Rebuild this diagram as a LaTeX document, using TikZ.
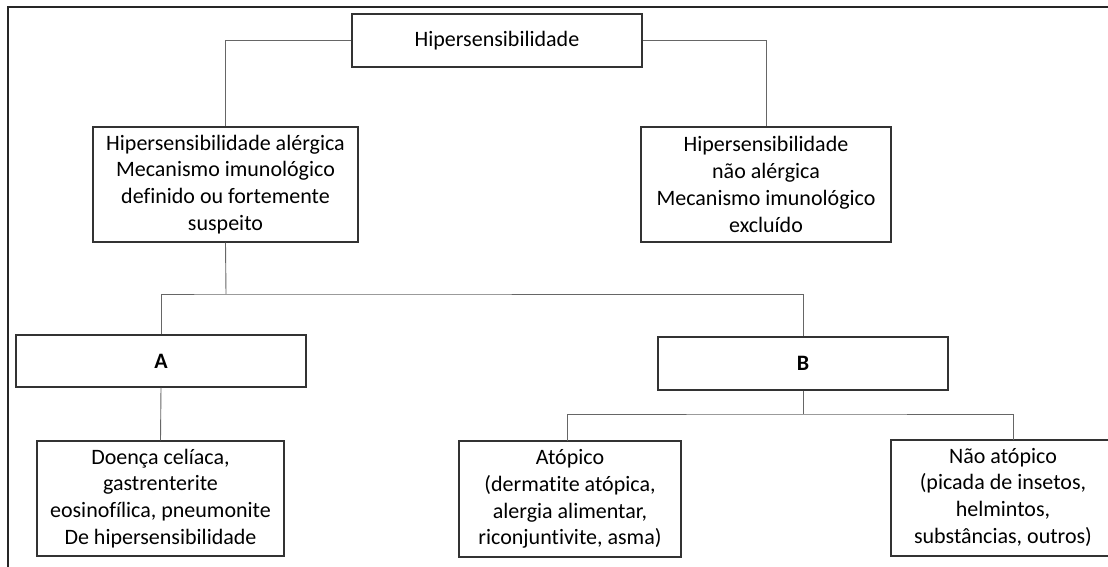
\documentclass[tikz,border=0pt]{standalone}
\usepackage{fontspec}
\setmainfont{Carlito}[Ligatures={NoCommon}]
\begin{document}
\begin{tikzpicture}[x=1pt,y=-1pt,
  box/.style={draw=black!80, line width=1.1pt, fill=white, inner sep=0pt, align=center,
    font=\fontsize{22}{26.8}\selectfont},
  conn/.style={draw=black!60, line width=0.9pt},
  frame/.style={draw=black!85, line width=1.1pt}]
\clip (0,0) rectangle (1108,567);
\fill[white] (0,0) rectangle (1108,567);
% partial frame
\coordinate (f0) at (8,567);
\coordinate (f1) at (8,7);
\coordinate (f2) at (1110,7);
\draw[frame] (f0) -- (f1) -- (f2);
% nodes
\node[box, minimum width=290pt, minimum height=53pt] (top) at (497,40.5) {Hipersensibilidade};
\node[box, minimum width=265pt, minimum height=115pt] (L) at (225.5,184.5)
  {Hipersensibilidade alérgica\\Mecanismo imunológico\\definido ou fortemente\\suspeito};
\node[box, minimum width=250pt, minimum height=115pt] (R) at (766,184.5)
  {Hipersensibilidade\\não alérgica\\Mecanismo imunológico\\excluído};
\node[box, minimum width=290pt, minimum height=52pt, font=\fontsize{22}{26.8}\selectfont\bfseries] (A) at (161,361) {A};
\node[box, minimum width=290pt, minimum height=53pt, font=\fontsize{22}{26.8}\selectfont\bfseries] (B) at (803,363.5) {B};
\node[box, minimum width=247pt, minimum height=115pt] (D) at (160.5,498.5)
  {Doença celíaca,\\gastrenterite\\eosinofílica, pneumonite\\De hipersensibilidade};
\node[box, minimum width=222pt, minimum height=116pt] (At) at (570,499)
  {Atópico\\(dermatite atópica,\\alergia alimentar,\\riconjuntivite, asma)};
\node[box, minimum width=240pt, minimum height=116pt] (NA) at (1011,498)
  {\renewcommand{\arraystretch}{1}\setlength{\tabcolsep}{0pt}%
   \begin{tabular}{@{}c@{\hspace{16pt}}}Não atópico\\(picada de insetos,\\helmintos,\\substâncias, outros)\end{tabular}};
% junction coordinates
\coordinate (jL) at (226,294);
\coordinate (jB) at (803,414);
\coordinate (naTop) at (1013,440);
\coordinate (atTop) at (567,441);
% connectors
\draw[conn] (top.west) -| (L.north);
\draw[conn] (top.east) -| (R.north);
\draw[conn] (L.south) -- (jL);
\draw[conn] (A.north) |- (jL) -| (B.north);
\draw[conn] (A.south) -- (D.north);
\draw[conn] (B.south) -- (jB);
\draw[conn] (atTop) |- (jB) -| (naTop);
\end{tikzpicture}
\end{document}
